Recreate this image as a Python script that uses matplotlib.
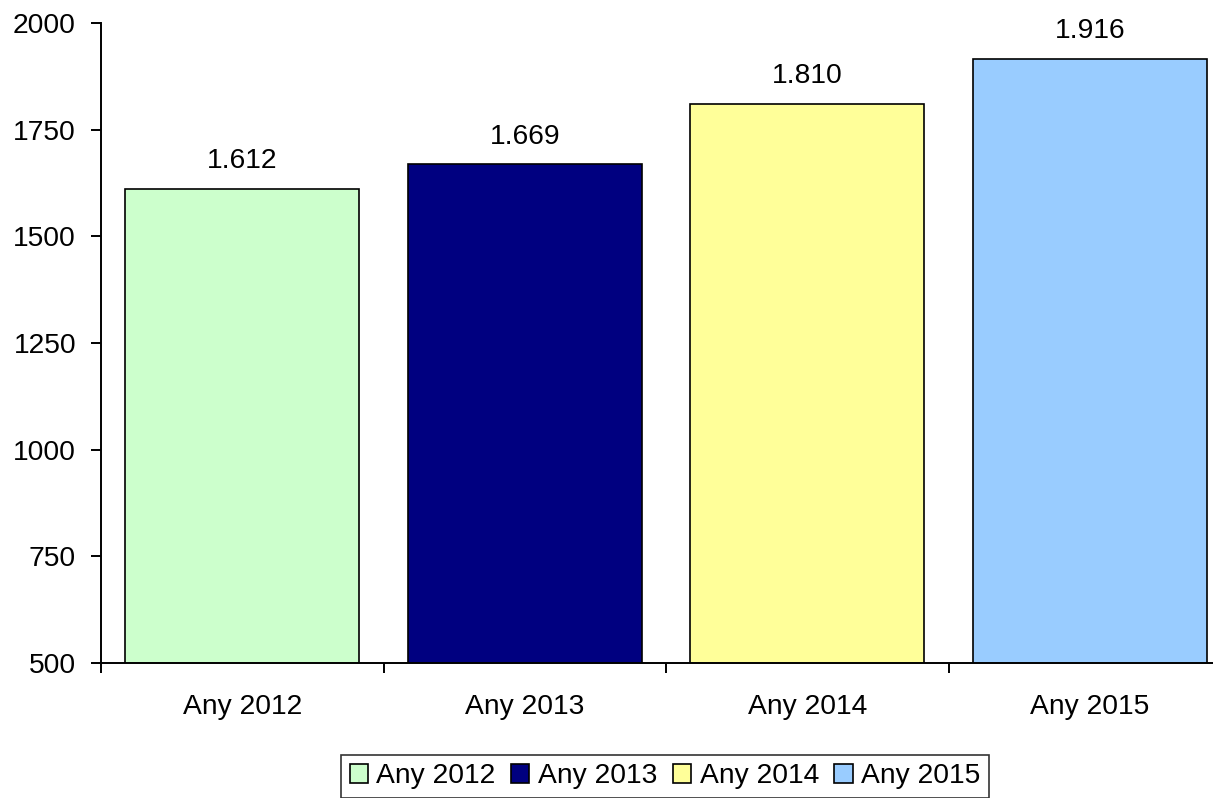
import numpy as np
import matplotlib
matplotlib.use("Agg")
from matplotlib import pyplot as plt
from matplotlib.ticker import FixedLocator

plt.rcParams['font.family'] = ['Liberation Sans', 'DejaVu Sans']

categories = ['Any 2012', 'Any 2013', 'Any 2014', 'Any 2015']
values = [1612, 1669, 1810, 1916]
labels = ['1.612', '1.669', '1.810', '1.916']
colors = ['#CCFFCC', '#000080', '#FFFF99', '#99CCFF']
yticks = [500, 750, 1000, 1250, 1500, 1750, 2000]

W, H = 1213, 798
fs = 20.3
fig = plt.figure(figsize=(W / 100, H / 100), dpi=100)
ax = fig.add_axes([101 / W, 1 - 663 / H, 1130 / W, 640 / H])

x = np.arange(len(categories))
bars = ax.bar(x, values, width=0.83, color=colors, edgecolor='black',
              linewidth=1.2, label=categories, zorder=2)

# value labels above the bars
for xi, v, lab in zip(x, values, labels):
    ax.annotate(lab, (xi, v), xytext=(0, 10.5), textcoords='offset points',
                ha='center', va='bottom', fontsize=fs)

ax.set_xlim(-0.5, 3.5)
ax.set_ylim(500, 2000)
ax.set_yticks(yticks)
ax.xaxis.set_major_locator(FixedLocator(np.arange(-0.5, 4.0, 1.0)))
ax.xaxis.set_major_formatter(plt.NullFormatter())
ax.xaxis.set_minor_locator(FixedLocator(x))
ax.set_xticklabels(categories, minor=True)
ax.tick_params(axis='x', which='minor', length=0, pad=22, labelsize=fs)
ax.tick_params(axis='x', which='major', length=7, width=1.4, direction='out')
ax.tick_params(axis='y', length=7, width=1.4, direction='out', pad=11,
               labelsize=fs)

for s in ['top', 'right']:
    ax.spines[s].set_visible(False)
for s in ['left', 'bottom']:
    ax.spines[s].set_linewidth(1.4)
ax.spines['bottom'].set_clip_on(False)

leg = fig.legend(handles=list(bars), labels=categories, loc='upper center',
                 bbox_to_anchor=(665 / W, 1 - 755 / H), ncol=4, fontsize=fs,
                 frameon=True, fancybox=False, handlelength=0.65,
                 handleheight=0.65, handletextpad=0.3, columnspacing=0.55,
                 borderpad=0.3, borderaxespad=0)
leg.get_frame().set_edgecolor('black')
leg.get_frame().set_linewidth(1.2)

fig.savefig('out.png', dpi=100)
